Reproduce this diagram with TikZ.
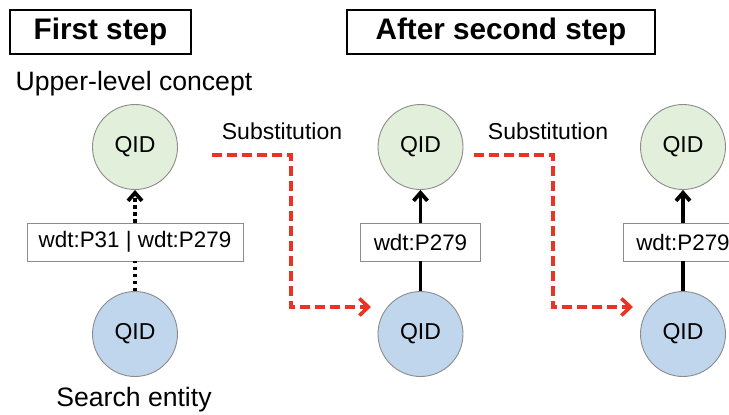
\documentclass[tikz,border=0pt]{standalone}
\usepackage{fontspec}
\setmainfont{Liberation Sans}
\usetikzlibrary{arrows.meta}
\definecolor{qgreen}{HTML}{E2EFDA}
\definecolor{qblue}{HTML}{C0D6EC}
\definecolor{subred}{HTML}{EA3323}
\begin{document}
\begin{tikzpicture}[x=1pt,y=-1pt,
  qid/.style={circle,draw=black!45,line width=0.9pt,minimum size=85pt,inner sep=0pt,font=\fontsize{23}{26}\selectfont},
  upper/.style={qid,fill=qgreen},
  lower/.style={qid,fill=qblue},
  relbox/.style={draw=black!45,line width=0.9pt,fill=white,minimum height=38pt,inner sep=0pt,font=\fontsize{22.4}{26}\selectfont},
  title/.style={draw=black,line width=1.3pt,minimum height=44pt,inner sep=0pt,font=\bfseries\fontsize{29.7}{34}\selectfont},
  plain/.style={inner sep=0pt,font=\fontsize{26.6}{30}\selectfont},
  sublabel/.style={inner sep=0pt,font=\fontsize{23}{26}\selectfont},
  rel/.style={line width=3.8pt,-{Straight Barb[length=8pt,width=14pt,line width=3.8pt]}},
  subst/.style={subred,line width=3.6pt,dash pattern=on 10pt off 5pt,-{Straight Barb[length=9pt,width=17pt,line width=3.6pt]}}
]
\clip (0,0) rectangle (729,415);
\useasboundingbox (0,0) rectangle (729,415);
% titles
\node[title,minimum width=181pt] (t1) at (100.5,32) {First step};
\node[title,minimum width=308pt] (t2) at (501,32) {After second step};
% first step
\node[plain] (ulc) at (134,84) {Upper-level concept};
\node[upper] (u1) at (135,147) {QID};
\node[lower] (l1) at (135,334) {QID};
\node[relbox,minimum width=216pt] (r1) at (135,242) {wdt:P31 | wdt:P279};
\node[plain] (se) at (134,400) {Search entity};
\draw[line width=3.8pt,dash pattern=on 3.5pt off 3.5pt] (l1.north) -- (r1.south);
\draw[line width=3.8pt,dash pattern=on 3.5pt off 3.5pt,-{Straight Barb[length=8pt,width=14pt,line width=3.8pt]}] (r1.north) -- (u1.south);
% second step
\node[upper] (u2) at (420.5,147) {QID};
\node[lower] (l2) at (420.5,334) {QID};
\node[relbox,minimum width=120pt] (r2) at (420.5,242) {wdt:P279};
\draw[line width=3.8pt] (l2.north) -- (r2.south);
\draw[rel] (r2.north) -- (u2.south);
% third
\node[upper] (u3) at (683,147) {QID};
\node[lower] (l3) at (683,334) {QID};
\node[relbox,minimum width=120pt] (r3) at (683,242) {wdt:P279};
\draw[line width=3.8pt] (l3.north) -- (r3.south);
\draw[rel] (r3.north) -- (u3.south);
% substitutions
\node[sublabel] (s1) at (282,131) {Substitution};
\node[sublabel] (s2) at (548,131) {Substitution};
\coordinate (a1) at (212,155);
\coordinate (b1) at (291,155);
\coordinate (c1) at (291,307);
\coordinate (d1) at (371,307);
\draw[subst] (a1) -- (b1) -- (c1) -- (d1);
\coordinate (a2) at (474,155);
\coordinate (b2) at (553,155);
\coordinate (c2) at (553,307);
\coordinate (d2) at (633,307);
\draw[subst] (a2) -- (b2) -- (c2) -- (d2);
\end{tikzpicture}
\end{document}
